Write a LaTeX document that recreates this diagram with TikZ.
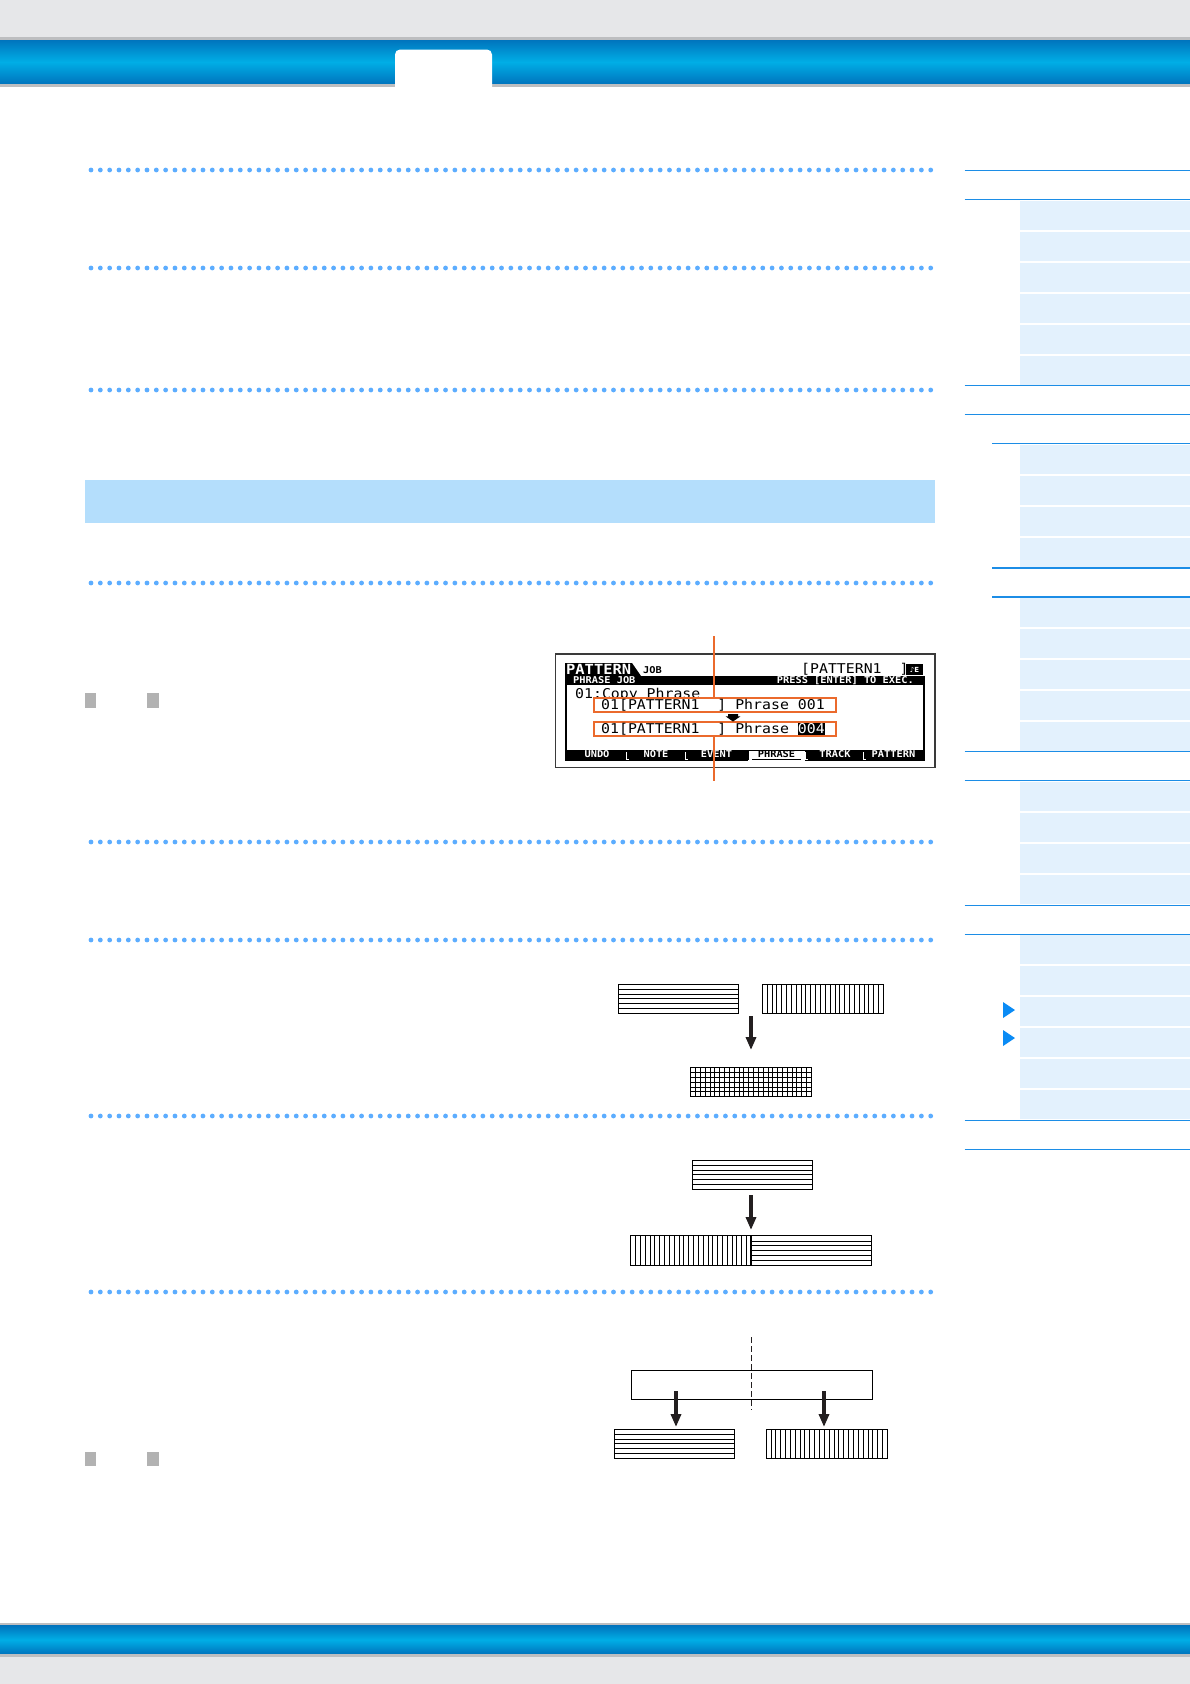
\documentclass[tikz,border=0pt]{standalone}
\usepackage{fontspec}
\usetikzlibrary{arrows.meta,calc}
\newfontfamily\lcdf[FakeStretch=1.1]{DejaVu Sans Mono}
\newfontfamily\symf{DejaVu Sans}
\definecolor{hdrgrey}{HTML}{E6E7E9}
\definecolor{lgrey}{HTML}{BDBEC0}
\definecolor{blueA}{HTML}{0074BD}
\definecolor{blueB}{HTML}{00AEE6}
\definecolor{dotblue}{HTML}{5CADFF}
\definecolor{bandblue}{HTML}{B4DEFC}
\definecolor{sqgrey}{HTML}{B2B2B2}
\definecolor{sideblue}{HTML}{1C8DE6}
\definecolor{sidefill}{HTML}{E3F1FD}
\definecolor{triblue}{HTML}{0A8BF5}
\definecolor{lcdorange}{HTML}{EB6A2C}
\definecolor{arrowdark}{HTML}{231F20}
\definecolor{framegrey}{HTML}{3A3A3A}
\tikzset{
 dotline/.style={draw=dotblue, line width=4.8pt, line cap=round, dash pattern=on 0pt off 9.33pt},
 sideline/.style={draw=sideblue, line width=1.3pt},
 sidebox/.style={fill=sidefill},
 pbox/.style={draw=black, line width=1pt, fill=white, inner sep=0pt, outer sep=0pt, minimum height=29pt},
 pline/.style={draw=black, line width=0.75pt},
 fatarrow/.style={draw=arrowdark, line width=4.4pt, -{Triangle[width=10pt,length=13pt]}},
 obox/.style={draw=lcdorange, fill=white, line width=2pt, inner sep=0pt, minimum width=241.4pt},
 oline/.style={draw=lcdorange, line width=1.8pt},
 lcdbig/.style={font=\lcdf\fontsize{13.5}{14}\selectfont, inner sep=0pt},
 lcdbold/.style={font=\lcdf\bfseries\fontsize{14}{15}\selectfont, inner sep=0pt},
 lcdsmall/.style={font=\lcdf\bfseries\fontsize{9.4}{10}\selectfont, inner sep=0pt},
}
\newcommand{\hstripes}[1]{\foreach \k in {1,...,5}{\draw[pline] ($(#1.north west)!\k/6!(#1.south west)$) -- ($(#1.north east)!\k/6!(#1.south east)$);}}
\newcommand{\vstripes}[1]{\foreach \k in {1,...,24}{\draw[pline] ($(#1.north west)!\k/25!(#1.north east)$) -- ($(#1.south west)!\k/25!(#1.south east)$);}}
\begin{document}
\begin{tikzpicture}[x=1pt,y=-1pt]
\useasboundingbox (0,0) rectangle (1190,1684);
\fill[white] (0,0) rectangle (1190,1684);
% header
\fill[hdrgrey] (0,0) rectangle (1190,38);
\fill[lgrey] (0,37) rectangle (1190,40);
\shade[top color=blueA, bottom color=blueA, middle color=blueB] (0,40) rectangle (1190,84);
\fill[lgrey] (0,84) rectangle (1190,86.5);
\fill[white, rounded corners=5pt] (395,49.5) rectangle (492,100);
% footer
\fill[lgrey] (0,1622.5) rectangle (1190,1625.5);
\shade[top color=blueA, bottom color=blueA, middle color=blueB] (0,1625.5) rectangle (1190,1654);
\fill[lgrey] (0,1654) rectangle (1190,1657);
\fill[hdrgrey] (0,1657) rectangle (1190,1684);
% dotted rules
\foreach \yy in {170,268,390,583,842,940,1116,1292}{\draw[dotline] (91,\yy) -- (935,\yy);}
% band
\fill[bandblue] (85,480) rectangle (935,523);
% grey squares
\fill[sqgrey] (85,693.3) rectangle (95.7,707.7);
\fill[sqgrey] (147.3,693.3) rectangle (158.7,707.7);
\fill[sqgrey] (85,1452) rectangle (95.7,1466);
\fill[sqgrey] (147.3,1452) rectangle (158.7,1466);
% sidebar boxes
\foreach \s/\n in {201/6,445/4,598/5,782/4,935/6}{
  \foreach \i in {1,...,\n}{\fill[sidebox] (1020.3,{\s+(\i-1)*31}) rectangle (1190,{\s+(\i-1)*31+29});}}
\foreach \yy in {170.8,199.8,385.6,414.6,751.8,780.8,905.4,934.4,1120.2,1149.2}{\draw[sideline] (964.5,\yy) -- (1190,\yy);}
\foreach \yy in {443.6,568.1,597.1}{\draw[sideline] (992.4,\yy) -- (1190,\yy);}
\fill[triblue] (1003,1002) -- (1015,1010) -- (1003,1018) -- cycle;
\fill[triblue] (1003,1030) -- (1015,1038) -- (1003,1046) -- cycle;
% LCD
\draw[framegrey, line width=1.2pt] (555.5,654) rectangle (935,767.5);
\fill[black] (565,663) -- (632,663) -- (641,676) -- (565,676) -- cycle;
\fill[black] (565,675.5) rectangle (925,685);
\draw[black, line width=1.6pt] (565.8,684) -- (565.8,751);
\draw[black, line width=1.6pt] (924.2,684) -- (924.2,751);
\fill[black] (565,750) rectangle (925,760.5);
\node[lcdbold, text=white, anchor=base west] (lcdmode) at (566,674.5) {PATTERN};
\node[lcdsmall, anchor=base west] (lcdjob) at (643,673.5) {JOB};
\node[lcdbig, anchor=base west] (lcdname) at (801,673.8) {[PATTERN1\ \ ]};
\fill[black] (906,664) rectangle (923,675);
\node[font=\symf\bfseries\fontsize{7}{7}\selectfont, text=white, inner sep=0pt] (lcdicon) at (914.5,669.5) {♪E};
\node[lcdsmall, text=white, anchor=base west] (lcdmenu) at (573,683.3) {PHRASE JOB};
\node[lcdsmall, text=white, anchor=base east] (lcdexec) at (914,683.3) {PRESS [ENTER] TO EXEC.};
\node[lcdbig, anchor=base west] (lcdtitle) at (575,698) {01:Copy Phrase};
\node[obox, minimum height=13.4pt] (row1) at (715,705) {};
\node[obox, minimum height=14pt] (row2) at (715,728.7) {};
\node[lcdbig, anchor=base west] (row1t) at (601,709.8) {01[PATTERN1\ \ ] Phrase 001};
\node[lcdbig, anchor=base west] (row2t) at (601,733) {01[PATTERN1\ \ ] Phrase};
\fill[black] (797.7,722.8) rectangle (824.8,734.5);
\node[lcdbig, text=white, anchor=base west] (row2v) at (797.7,733) {004};
\fill[black] (728,714) -- (738,714) -- (738,716.3) -- (740.5,716.3) -- (733,721.5) -- (725.5,716.3) -- (728,716.3) -- cycle;
% tab bar
\fill[white] (747.5,750.8) rectangle (804.5,760.5);
\draw[black, line width=0.8pt] (748.3,751) -- (748.3,760);
\draw[black, line width=0.8pt] (752,759.3) -- (801,759.3);
\foreach \xx in {626,685,805,863}{\draw[white, line width=0.9pt] (\xx,752) -- (\xx,759.3) -- (\xx+3,759.3);}
\node[lcdsmall, text=white, anchor=base] (tundo) at (597,757.8) {UNDO};
\node[lcdsmall, text=white, anchor=base] (tnote) at (656,757.8) {NOTE};
\node[lcdsmall, text=white, anchor=base] (tevent) at (716.5,757.8) {EVENT};
\node[lcdsmall, text=black, anchor=base] (tphrase) at (776.5,757.8) {PHRASE};
\node[lcdsmall, text=white, anchor=base] (ttrack) at (835,757.8) {TRACK};
\node[lcdsmall, text=white, anchor=base] (tpattern) at (893.5,757.8) {PATTERN};
% orange callout lines
\coordinate (otop) at (714.3,636);
\coordinate (obot) at (714.3,781);
\draw[oline] (otop) -- (row1.north -| otop);
\draw[oline] (row2.south -| obot) -- (obot);
% diagram 1
\node[pbox, minimum width=120pt] (d1a) at (678.3,998.8) {};
\hstripes{d1a}
\node[pbox, minimum width=121pt] (d1b) at (822.8,998.8) {};
\vstripes{d1b}
\node[pbox, minimum width=120.6pt, minimum height=29.4pt] (d1c) at (751,1082) {};
\hstripes{d1c}
\vstripes{d1c}
\coordinate (a1s) at (751,1016);
\coordinate (a1e) at (751,1050);
\draw[fatarrow] (a1s) -- (a1e);
% diagram 2
\node[pbox, minimum width=120pt] (d2a) at (752.3,1174.7) {};
\hstripes{d2a}
\node[pbox, minimum width=120.6pt, minimum height=29.7pt] (d2b) at (691,1250.8) {};
\vstripes{d2b}
\node[pbox, minimum width=120.4pt, minimum height=29.7pt] (d2c) at (811.5,1250.8) {};
\hstripes{d2c}
\draw[black, line width=1.8pt] (d2b.north east) -- (d2b.south east);
\coordinate (a2s) at (751,1195);
\coordinate (a2e) at (751,1230);
\draw[fatarrow] (a2s) -- (a2e);
% diagram 3
\node[draw=black, line width=1pt, inner sep=0pt, outer sep=0pt, minimum width=241pt, minimum height=28.6pt] (d3r) at (752.2,1385) {};
\coordinate (dsh1) at (751.7,1337);
\coordinate (dsh2) at (751.7,1410);
\draw[arrowdark, line width=0.8pt, dash pattern=on 5.5pt off 3.5pt] (dsh1) -- (dsh2);
\node[pbox, minimum width=120.3pt] (d3a) at (674.2,1443.7) {};
\hstripes{d3a}
\node[pbox, minimum width=121.3pt] (d3b) at (826.7,1443.7) {};
\vstripes{d3b}
\coordinate (a3s) at (676,1391);
\coordinate (a3e) at (676,1427);
\coordinate (a4s) at (824,1391);
\coordinate (a4e) at (824,1427);
\draw[fatarrow] (a3s) -- (a3e);
\draw[fatarrow] (a4s) -- (a4e);
\end{tikzpicture}
\end{document}
